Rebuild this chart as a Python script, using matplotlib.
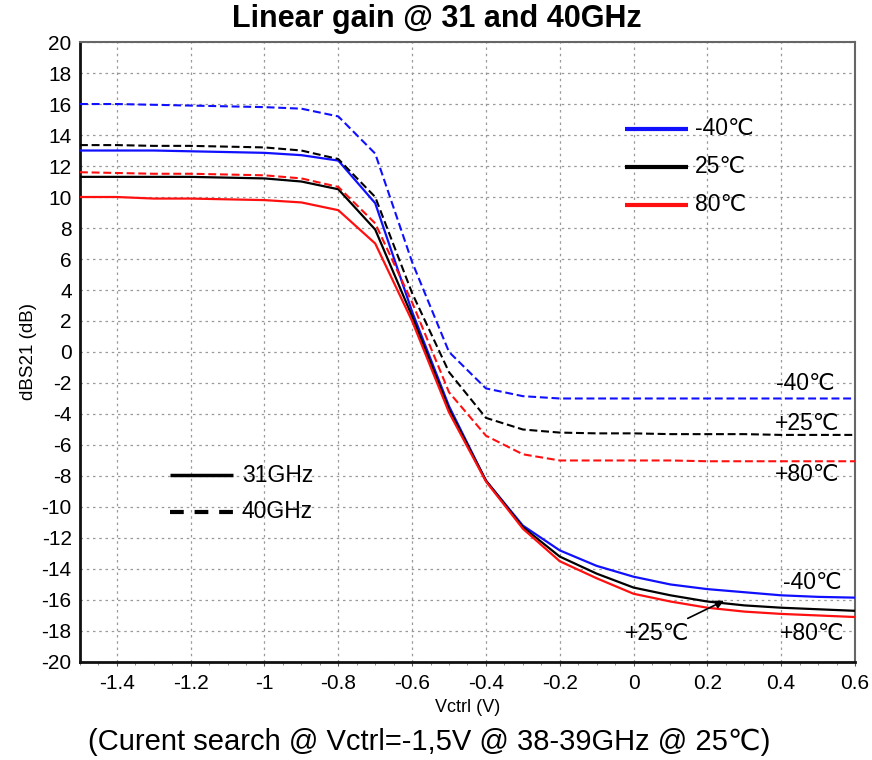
import numpy as np
import matplotlib
matplotlib.use("Agg")
import matplotlib.pyplot as plt

plt.rcParams['font.family'] = ['Liberation Sans', 'DejaVu Sans']
plt.rcParams['axes.unicode_minus'] = False

# Vctrl points (V)
vctrl = [-1.5, -1.4, -1.3, -1.2, -1.1, -1.0, -0.9, -0.8, -0.7, -0.6, -0.5,
         -0.4, -0.3, -0.2, -0.1, 0.0, 0.1, 0.2, 0.3, 0.4, 0.5, 0.6]

# 31GHz (solid)
s31_m40 = [13.0, 13.0, 13.0, 12.95, 12.9, 12.85, 12.7, 12.35, 9.6, 2.6, -3.5,
           -8.3, -11.2, -12.8, -13.8, -14.5, -15.0, -15.3, -15.5, -15.7, -15.8, -15.85]
s31_25 = [11.3, 11.3, 11.3, 11.3, 11.25, 11.2, 11.0, 10.5, 7.9, 2.3, -3.7,
          -8.3, -11.3, -13.2, -14.3, -15.2, -15.7, -16.1, -16.35, -16.5, -16.6, -16.7]
s31_80 = [10.0, 10.0, 9.9, 9.9, 9.85, 9.8, 9.65, 9.15, 7.0, 2.0, -3.9,
          -8.35, -11.4, -13.5, -14.6, -15.6, -16.1, -16.5, -16.75, -16.9, -17.0, -17.1]

# 40GHz (dashed)
s40_m40 = [16.0, 16.0, 15.95, 15.9, 15.85, 15.8, 15.7, 15.2, 12.8, 5.8, 0.0,
           -2.35, -2.85, -3.0, -3.0, -3.0, -3.0, -3.0, -3.0, -3.0, -3.0, -3.0]
s40_25 = [13.35, 13.35, 13.3, 13.3, 13.25, 13.2, 13.0, 12.45, 10.0, 3.8, -1.3,
          -4.25, -5.0, -5.2, -5.25, -5.25, -5.3, -5.3, -5.3, -5.35, -5.35, -5.35]
s40_80 = [11.6, 11.55, 11.5, 11.5, 11.45, 11.4, 11.2, 10.65, 8.3, 3.2, -2.6,
          -5.4, -6.6, -7.0, -7.0, -7.0, -7.0, -7.05, -7.05, -7.05, -7.05, -7.05]

temp_labels = ['-40\u2103', '25\u2103', '80\u2103']
temp_colors = ['#1010ff', 'black', '#ff1010']

fig = plt.figure(figsize=(8.72, 7.6), dpi=100)
ax = fig.add_axes([0.0917, 0.129, 0.8888, 0.8157])

dash = (3.8, 1.8)
for ys, c in zip([s31_m40, s31_25, s31_80], temp_colors):
    ax.plot(vctrl, ys, color=c, lw=1.6, zorder=3)
for ys, c in zip([s40_m40, s40_25, s40_80], temp_colors):
    ax.plot(vctrl, ys, color=c, lw=1.5, dashes=dash, zorder=3)

ax.set_xlim(-1.5, 0.6)
ax.set_ylim(-20, 20)
ax.set_xticks(np.arange(-1.4, 0.61, 0.2))
ax.set_xticklabels(['-1.4', '-1.2', '-1', '-0.8', '-0.6', '-0.4', '-0.2', '0', '0.2', '0.4', '0.6'])
ax.set_xticks(np.arange(-1.5, 0.61, 0.05), minor=True)
ax.set_yticks(np.arange(-20, 21, 2))
ax.tick_params(axis='both', labelsize=15, length=3, width=0.8, color='#555555')
ax.tick_params(axis='x', which='major', pad=6)
ax.tick_params(axis='x', which='minor', length=2.5, width=0.6, color='#777777')
ax.tick_params(axis='y', length=0, pad=6)
ax.grid(True, which='major', color='#999999', linestyle=(0, (2, 3)), lw=0.9)

for side in ['left', 'bottom']:
    ax.spines[side].set_linewidth(2)
    ax.spines[side].set_color('#111111')
for side in ['top', 'right']:
    ax.spines[side].set_linewidth(1.5)
    ax.spines[side].set_color('#666666')

ax.set_xlabel('Vctrl (V)', fontsize=13, labelpad=4)
ax.set_ylabel('dBS21 (dB)', fontsize=13.5, labelpad=3)
fig.text(0.501, 0.975, 'Linear gain @ 31 and 40GHz', ha='center', va='center',
         fontsize=22, fontweight='bold')
fig.text(0.492, 0.024, '(Curent search @ Vctrl=-1,5V @ 38-39GHz @ 25\u2103)',
         ha='center', va='center', fontsize=21)

fs = 16.5
# temperature legend
for y, lab, c in zip([14.4, 11.95, 9.5], temp_labels, temp_colors):
    ax.plot([-0.023, 0.148], [y, y], color=c, lw=3, solid_capstyle='butt', zorder=4)
    ax.text(0.167, y, lab, fontsize=fs, va='center', ha='left')

# frequency legend
ax.plot([-1.256, -1.085], [-7.95, -7.95], color='black', lw=2.5, solid_capstyle='butt')
ax.text(-1.061, -7.95, '31GHz', fontsize=fs, va='center', ha='left')
ax.plot([-1.256, -1.085], [-10.3, -10.3], color='black', lw=3, dashes=(3.3, 2.6))
ax.text(-1.061, -10.3, '40GHz', fontsize=fs, va='center', ha='left')

# curve labels
ax.text(0.465, -2.05, '-40\u2103', fontsize=fs, ha='center', va='center')
ax.text(0.47, -4.6, '+25\u2103', fontsize=fs, ha='center', va='center')
ax.text(0.47, -7.9, '+80\u2103', fontsize=fs, ha='center', va='center')
ax.text(0.484, -14.85, '-40\u2103', fontsize=fs, ha='center', va='center')
ax.text(0.484, -18.15, '+80\u2103', fontsize=fs, ha='center', va='center')
ax.annotate('+25\u2103', xy=(0.245, -16.05), xytext=(0.064, -18.15),
            fontsize=fs, ha='center', va='center',
            arrowprops=dict(arrowstyle='-|>', color='black', lw=1.2,
                            shrinkA=1, shrinkB=0, mutation_scale=12))

fig.savefig('out.png', dpi=100)
